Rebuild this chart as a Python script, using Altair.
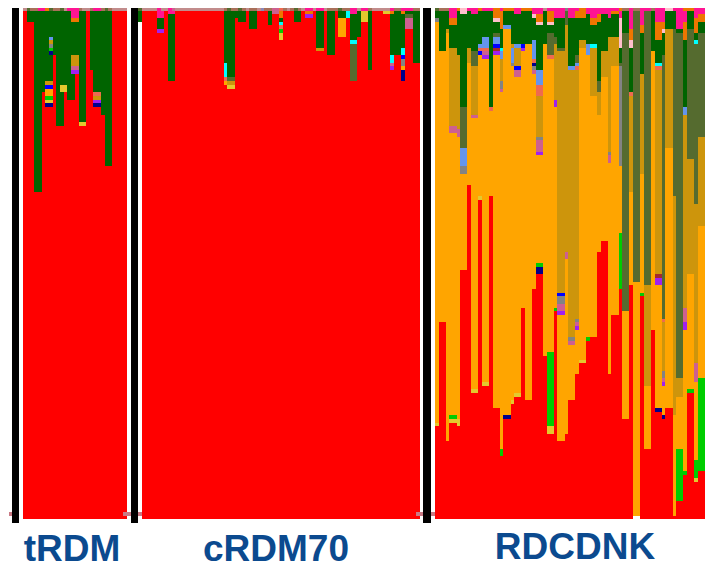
import altair as alt
import pandas as pd

# Every stack is read top-down: colour letter + the row (of 128) where that segment ends.
A = "A1 R128"
X = "X1 R128"
tRDM = [
    A, "L1 G3.75 R128", "X1 G3.75 R128", "X1 G46.25 R128", "P1 G46.25 R128", "P1 G21.25 R128",
    "E1 G18.5 D19.5 U20.5 O22.25 J23.25 Y24 N25 R128",
    "L1 G7.5 B8.25 D9.25 H10.25 J11 N12 G18.5 D19.5 U20.5 O22.25 J23.25 Y24 N25 R128",
    "X1 G12 R128", "X1 G29.75 R128", "L1 G19.5 Y21.25 G29.75 R128", "A1 G19.5 Y21.25 R128",
    "P1 G23.25 R128", "P2.75 E3.75 G12 D14.75 M15.75 V16.75 G23.25 R128",
    "P2.75 E3.75 G12 D14.75 M15.75 V16.75 R128", "X1 G28.75 Y29.75 R128", "A1 G28.75 Y29.75 R128",
    A, "X1 G15.75 R128", "P1 G21.25 S22.25 D23.25 V24 N25 R128", "P1 G21.25 S22.25 D23.25 V24 N25 R128",
    "X1 G27 R128", "L1 G39.75 R128", "X1 G39.75 R128", A, A, A, A,
]
cRDM70_lead = "L1 G3.75 W128"
cRDM70 = (
    [A] * 4
    + ["P2.75 G5.5 V6.5 R128", "A1 P2.75 G5.5 V6.5 R128", A, "P1.75 G18.5 R128", "M1 P1.75 G18.5 R128"]
    + [A] * 13
    + ["X1 G14 C17.5 S18.5 O19.5 R128", "L1 G17.5 L18.5 D19.5 Y20.5 R128", "X1 G17.5 L18.5 D19.5 Y20.5 R128",
       "X1 G2.75 R128", "L1 G3.75 R128", "X1 G3.75 R128", A, "X1 G5.5 R128", "X1 G5.5 R128", A,
       "Q1 R128", X, "X1 G4.5 R128", "M1.75 R128", "M1.75 R128",
       "S1 E2.75 G3.75 C4.5 S5.5 J6.5 Y8.25 R128", X, A, X,
       "L1 G3.75 R128", "X1 G3.75 R128", A, "P1 E1.75 V2.75 R128", "P1 E1.75 V2.75 R128", A,
       "P1 G10.25 D11 R128", "P1 G10.25 D11 R128", A, "X1 G12 R128", "X1 G12 R128", X,
       "L1 G2.75 O7.5 R128", "X1 G2.75 O7.5 R128", "X1 C2.75 R128",
       "P1.75 G8.25 C9.25 L18.5 R128", "P1.75 G8.25 C9.25 L18.5 R128", "A1 G7.5 R128",
       "P1 Y3.75 R128", "P1 Y3.75 R128", "X1 G15.75 R128", A, A, A, "A1 Y1.75 R128", "A1 Y1.75 R128",
       "P1 E1.75 G12 C14 M14.75 V15.75 R128", "X1 G12 R128", "X1 G12 R128",
       "P1 E1.75 G10.25 C12 U13 H14.75 O15.75 N18.5 R128",
       "P1 G1.75 L2.75 M5.5 R128", "P1 G1.75 L2.75 M5.5 R128", "X1 G14 R128", "X1 G14 R128"]
)
# RDCDNK alternates one single sample with two identical samples
RDCDNK_groups = [
    "L1 G2.75 H3.75 O104 Y104.75 R128",
    "X1 G11 O78.75 R128",
    "X1 G5.5 D6.5 O108.5 R128",
    "P2.75 E4.5 G10.25 D29.75 M31.5 O102 J103 Y104 R128",
    "E1 G12 D30.5 M32.5 O103 Y104.75 R128",
    "K1.75 G25 L35.25 B39.75 H41.75 O65.75 R128",
    "P1 G10.25 D14 O44.5 R128",
    "P1.75 G11 L14.75 D27 M27.75 O95.5 Y96.5 R128",
    "E1 G9.25 B10.25 S11 U12 O47.25 Y48.25 R128",
    "P1 G7.5 B10.25 S11 M12 V13 O93.75 Y94.75 R128",
    "P1 G25 S26 O47.25 R128",
    "E2.75 K3.75 G6.5 L7.5 B9.25 U10.25 Z11 V12 O100.25 R128",
    "P1 E5.5 G10.25 C11 B13 D18.5 H20.5 M21.25 O110.5 J112.25 R128",
    "E1 G4.5 B5.5 O102 N103 R128",
    "E1 G9.25 D10.25 B14 H14.75 O98.25 Y99.25 R128",
    "P1.75 G9.25 B10.25 D14.75 U15.75 M17.5 O96.5 Y97.5 R128",
    "E1 G9.25 U10.25 V11 O75.25 R128",
    "E1 G9.25 O98.25 R128",
    "P1.75 K2.75 G8.25 B13 S14 N14.75 H15.75 M16.75 O70.5 R128",
    "P1.75 E3.75 K4.5 G15.75 B19.5 S22.25 D32.5 H33.25 M36.25 V37 O64 J65 N66.75 R128",
    "A1 G9.25 O87.25 R128",
    "P1 E3.75 K4.5 G6.5 L12 S13 O86.25 J104.75 Y106.75 R128",
    "P2.75 G7.5 L9.25 D23.25 V25 O75.25 J76 R128",
    "P2.75 G10.25 L11 D71.5 U72.25 H74.25 M76 V77 O108.5 R128",
    "H1 L4.5 D61.25 M63 O106.75 R128",
    "P2.75 G14.75 B15.75 D82.5 H83.5 M84.5 O98.25 R128",
    "P1 E2.75 G12 L14 B14.75 S15.75 D78 H78.75 M79.75 V80.75 O91.75 R128",
    "E2.75 G8.25 D10.25 O88.25 Y89 R128",
    "P1.75 G9.25 B12 O82.5 J83.5 R128",
    "P2.75 E4.5 G9.25 C10.25 D22.25 O82.5 R128",
    "P1.75 E3.75 G18.5 L21.25 D27 O61.25 R128",
    "P1.75 G11 D17.5 O58.5 R128",
    "P2.75 G7.5 D36.25 H37 M39 O91.75 R128",
    "P1 E1.75 G7.5 D14.75 O77 R128",
    "E1 P2.75 K10.25 G14 L14.75 H39.75 O56.5 J70.5 R128",
    "X1 G6.5 L76 O103 R128",
    "P5.5 E8.25 K10.25 G21.25 S22.25 D46.25 O69.5 R128",
    "X1 L68.75 O127.25 W128",
    "P4.5 E6.5 G16.75 D41.75 O71.5 J72.25 R128",
    "P1 L69.5 D94.75 O110.5 R128",
    "X1 G11 O80.75 R128",
    "P3.75 E8.25 G14 C14.75 S15.75 D66.75 Z67.75 V69.5 O100.25 N101.25 R128",
    "P3.75 E5.5 K6.5 G12 L78 S78.75 D91 H92.75 M93.75 V94.75 O102 N103 R128",
    "K1 G5.5 D35.25 O100.25 R128",
    "P1 G5.5 L47.25 D102 O127.25 R128",
    "P5.5 G6.5 L92.75 D97.5 O110.5 J123.5 R128",
    "E1 P3.75 E8.25 G25 B27 D75.25 M78.75 V80.75 O116 J117 R128",
    "E1 G5.5 L38 D66.75 O95.5 J96.5 R128",
    "P2.75 E6.5 G8.25 C9.25 L49.25 D89 M93.75 O113.25 J117.75 Y118.75 R128",
    "P1.75 E3.75 G6.5 L32.5 D54.75 O92.75 J116 R128",
]
palette = {
    "R": "#ff0000", "G": "#006400", "O": "#ffa500", "D": "#cd950c", "L": "#556b2f", "P": "#ff1493",
    "A": "#c28c8c", "X": "#a9705a", "Y": "#e3c92e", "B": "#6495ed", "C": "#00ffff", "N": "#00008b",
    "U": "#0000ff", "V": "#a020f0", "M": "#cd6090", "H": "#838383", "S": "#ee6a50", "E": "#ee7600",
    "K": "#ffc0cb", "J": "#00cd00", "Z": "#a52a2a", "Q": "#8b88b8", "W": "#ffffff",
}
panel_names = ["tRDM", "cRDM70", "RDCDNK"]
panel_starts = [4.05, 36.15, 115.2]
panel3_step = 0.9712
label_x = [17.27, 72.3, 152.97]
label_row = [138.5, 138.5, 138]
divider_from = [1.08, 33.18, 111.96]
divider_to = [2.97, 35.07, 114.12]
tick_from = [0.27, 31.02, 110.07]
tick_to = [1.08, 33.18, 111.96]
tick2_from = [None, 35.07, 114.12]
tick2_to = [None, 36.15, 115.2]

RDCDNK = []
for i, stack in enumerate(RDCDNK_groups):
    RDCDNK += [stack] * (1 if i % 2 == 0 else 2)

rows = []
def add(start, stacks, step=1.0):
    for i, stack in enumerate(stacks):
        prev = 0.0
        for tok in stack.split():
            end = float(tok[1:])
            rows.append({"x": start + i * step, "x2": start + (i + 1) * step, "y": prev, "y2": end, "k": tok[0]})
            prev = end

add(panel_starts[0], tRDM)
add(panel_starts[1] - 1, [cRDM70_lead])
add(panel_starts[1], cRDM70)
add(panel_starts[2], RDCDNK, panel3_step)
cells = pd.DataFrame(rows)

xs = alt.Scale(domain=[0, 188.04], round=True, nice=False)
ys = alt.Scale(domain=[139.25, 0.25], nice=False)

base = alt.Chart(cells).mark_rect(strokeWidth=0, clip=True).encode(
    x=alt.X("x:Q", scale=xs, axis=None),
    x2="x2:Q",
    y=alt.Y("y:Q", scale=ys, axis=None),
    y2="y2:Q",
    color=alt.Color("k:N", scale=alt.Scale(domain=list(palette), range=list(palette.values())), legend=None),
)

bars = pd.DataFrame({"x": divider_from, "x2": divider_to, "y": [0.25] * 3, "y2": [129] * 3})
bar_layer = alt.Chart(bars).mark_rect(color="#000000").encode(
    x=alt.X("x:Q", scale=xs, axis=None), x2="x2:Q",
    y=alt.Y("y:Q", scale=ys, axis=None), y2="y2:Q",
)

tk = []
for a, b in zip(tick_from, tick_to):
    tk.append({"x": a, "x2": b})
for a, b in zip(tick2_from, tick2_to):
    if a is not None:
        tk.append({"x": a, "x2": b})
ticks = pd.DataFrame(tk)
ticks["y"] = 126.25
ticks["y2"] = 127.25
tick_layer = alt.Chart(ticks).mark_rect(color="#c97a85").encode(
    x=alt.X("x:Q", scale=xs, axis=None), x2="x2:Q",
    y=alt.Y("y:Q", scale=ys, axis=None), y2="y2:Q",
)

labels = pd.DataFrame({"t": panel_names, "x": label_x, "y": label_row})
text_layer = alt.Chart(labels).mark_text(
    font="Liberation Sans", fontWeight="bold", fontSize=37, color="#0b4a8f",
    align="center", baseline="alphabetic",
).encode(
    x=alt.X("x:Q", scale=xs, axis=None),
    y=alt.Y("y:Q", scale=ys, axis=None),
    text="t:N",
)

chart = alt.layer(base, tick_layer, bar_layer, text_layer).properties(
    width=697, height=556, padding=0, autosize=alt.AutoSizeParams(type="none"),
).configure_view(stroke=None)

chart.save("out.html", embed_options={"renderer": "svg", "actions": False})
